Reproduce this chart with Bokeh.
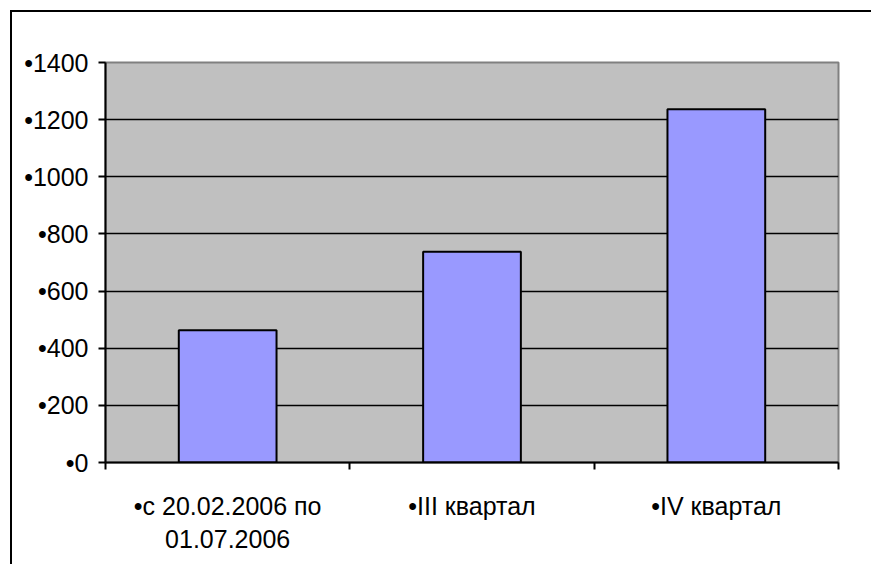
from bokeh.plotting import figure
from bokeh.models import FixedTicker, LinearAxis, Range1d
from bokeh.embed import file_html
from bokeh.resources import INLINE

categories = ["•с 20.02.2006 по\n01.07.2006", "•III квартал", "•IV квартал"]
values = [463, 738, 1236]
y_ticks = [0, 200, 400, 600, 800, 1000, 1200, 1400]
y_tick_labels = ["•0", "•200", "•400", "•600", "•800", "•1000", "•1200", "•1400"]

FONT = "Liberation Sans"
positions = [i + 0.5 for i in range(len(categories))]

p = figure(width=861, height=554, output_backend="svg", toolbar_location=None,
           x_range=Range1d(0, len(categories)), y_range=Range1d(0, 1400),
           min_border_left=93, min_border_top=50, min_border_right=35, min_border_bottom=104,
           x_axis_location=None)
p.margin = (10, 0, 0, 10)
p.styles = {"border-top": "2px solid black", "border-left": "2px solid black"}

p.background_fill_color = "#C0C0C0"
p.border_fill_color = "white"
p.outline_line_color = "#808080"
p.outline_line_width = 2

p.vbar(x=positions, top=values, width=0.4, bottom=0,
       fill_color="#9999FF", line_color="black", line_width=2)

# y axis
p.yaxis.ticker = FixedTicker(ticks=y_ticks)
p.yaxis.major_label_overrides = {t: l for t, l in zip(y_ticks, y_tick_labels)}
p.yaxis.major_label_text_font = FONT
p.yaxis.major_label_text_font_size = "25px"
p.yaxis.major_label_text_color = "black"
p.yaxis.axis_line_color = "black"
p.yaxis.axis_line_width = 2
p.yaxis.major_tick_line_color = "black"
p.yaxis.major_tick_line_width = 2
p.yaxis.major_tick_out = 7
p.yaxis.major_tick_in = 0
p.yaxis.minor_tick_line_color = None
p.yaxis.major_label_standoff = 10

p.ygrid.ticker = FixedTicker(ticks=y_ticks)
p.ygrid.grid_line_color = "black"
p.ygrid.grid_line_width = 1.5
p.xgrid.grid_line_color = None

# x axis: boundary ticks
xa = LinearAxis(ticker=FixedTicker(ticks=list(range(len(categories) + 1))),
                major_label_overrides={i: "" for i in range(len(categories) + 1)},
                axis_line_color="black", axis_line_width=2,
                major_tick_line_color="black", major_tick_line_width=2,
                major_tick_out=7, major_tick_in=0, minor_tick_line_color=None,
                major_label_text_font_size="1px")
p.add_layout(xa, "below")

# category labels
la = LinearAxis(ticker=FixedTicker(ticks=positions),
                major_label_overrides={pos: c for pos, c in zip(positions, categories)},
                axis_line_color=None, major_tick_line_color=None, minor_tick_line_color=None,
                major_label_text_font=FONT, major_label_text_font_size="25px",
                major_label_text_color="black", major_label_text_baseline="middle",
                major_label_standoff=16)
p.add_layout(la, "below")

open("out.html", "w").write(file_html(p, INLINE))
